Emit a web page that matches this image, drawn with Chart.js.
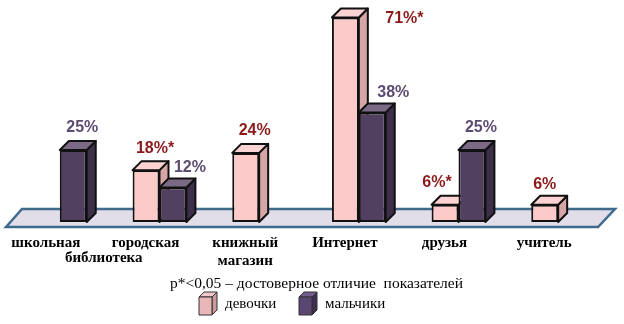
<!DOCTYPE html>
<html>
<head>
<meta charset="utf-8">
<script src="https://cdn.jsdelivr.net/npm/chart.js@4"></script>
<style>
  html, body { margin: 0; padding: 0; background: #fff; }
  #wrap { width: 624px; height: 324px; }
</style>
</head>
<body>
<div id="wrap"><canvas id="chart" width="624" height="324"></canvas></div>
<script>
const categories = ['школьная библиотека', 'городская библиотека', 'книжный магазин', 'Интернет', 'друзья', 'учитель'];
const girls = [null, 18, 24, 71, 6, 6];
const boys = [25, 12, null, 38, 25, null];
const girlsSignificant = [false, true, false, true, true, false];
const boysSignificant = [false, false, false, false, false, false];
const seriesNames = ['девочки', 'мальчики'];
const note = 'p*<0,05 – достоверное отличие  показателей';

const palette = [
  { front: '#fdcaca', side: '#d6a6a6', top: '#fbd3d3', text: '#8b1a1a', legFront: '#e9b7b7', legSide: '#c99b9b', legTop: '#f1c9c9' },
  { front: '#524060', side: '#3d2f49', top: '#7a6a86', text: '#5d4b72', legFront: '#5a4672', legSide: '#3e2f52', legTop: '#725e8a' }
];
const depth = 9;
// small nudges for labels that would collide in the original layout
const labelNudge = { '0-3': [50, 23], '1-1': [8, 2], '0-4': [-17, 0], '1-3': [12, 2], '0-5': [-9, 2] };

function face(ctx, pts, fill) {
  ctx.beginPath();
  ctx.moveTo(pts[0][0], pts[0][1]);
  for (let i = 1; i < pts.length; i++) ctx.lineTo(pts[i][0], pts[i][1]);
  ctx.closePath();
  ctx.fillStyle = fill;
  ctx.fill();
  ctx.stroke();
}

const bars3d = {
  id: 'bars3d',
  beforeDatasetsDraw(chart) {
    const ctx = chart.ctx;
    const x = chart.scales.x, y = chart.scales.y;
    const zero = y.getPixelForValue(0);
    ctx.save();
    // floor
    ctx.lineWidth = 2.5;
    ctx.strokeStyle = '#3f6a8c';
    face(ctx, [[x.left - 4, zero + 5], [x.left + 12, zero - 13], [x.right + 7, zero - 13], [x.right - 10, zero + 5]], '#e1dde9');
    // side and top faces, fronts are drawn by the chart afterwards
    ctx.lineWidth = 2;
    ctx.strokeStyle = '#111';
    ctx.lineJoin = 'round';
    for (let i = 0; i < categories.length; i++) {
      for (let d = 0; d < 2; d++) {
        const meta = chart.getDatasetMeta(d);
        const el = meta.data[i];
        if (!el || chart.data.datasets[d].data[i] == null) continue;
        const l = el.x - el.width / 2, r = el.x + el.width / 2, t = el.y, b = el.base;
        face(ctx, [[r, t], [r + depth, t - depth], [r + depth, b - depth], [r, b]], palette[d].side);
        face(ctx, [[l, t], [l + depth, t - depth], [r + depth, t - depth], [r, t]], palette[d].top);
      }
    }
    ctx.restore();
  },
  afterDatasetsDraw(chart) {
    const ctx = chart.ctx;
    ctx.save();
    ctx.font = 'bold 16px "Liberation Sans", Arial, sans-serif';
    ctx.textAlign = 'center';
    ctx.textBaseline = 'middle';
    const sig = [girlsSignificant, boysSignificant];
    for (let d = 0; d < 2; d++) {
      const meta = chart.getDatasetMeta(d);
      chart.data.datasets[d].data.forEach((v, i) => {
        if (v == null) return;
        const el = meta.data[i];
        const nudge = labelNudge[d + '-' + i] || [0, 0];
        ctx.fillStyle = palette[d].text;
        ctx.fillText(v + '%' + (sig[d][i] ? '*' : ''), el.x + 9 + nudge[0], el.y - 22 + nudge[1]);
      });
    }
    // shared second word under the two library labels
    const x = chart.scales.x;
    ctx.font = 'bold 15px "Liberation Serif", "Times New Roman", serif';
    ctx.fillStyle = '#000';
    ctx.fillText('библиотека', (x.getPixelForValue(0) + x.getPixelForValue(1)) / 2 - 6, chart.chartArea.bottom + 36);

    // note and legend
    ctx.font = '15.5px "Liberation Serif", "Times New Roman", serif';
    ctx.textAlign = 'left';
    ctx.fillText(note, 170, 284);
    const legX = [199, 299];
    ctx.lineWidth = 1;
    ctx.strokeStyle = '#333';
    ctx.font = '15px "Liberation Serif", "Times New Roman", serif';
    for (let d = 0; d < 2; d++) {
      const p = palette[d];
      const l = legX[d], r = l + 13, t = 297, b = 315, dp = 5;
      face(ctx, [[r, t], [r + dp, t - dp], [r + dp, b - dp], [r, b]], p.legSide);
      face(ctx, [[l, t], [l + dp, t - dp], [r + dp, t - dp], [r, t]], p.legTop);
      face(ctx, [[l, t], [r, t], [r, b], [l, b]], p.legFront);
      ctx.fillStyle = '#000';
      ctx.fillText(seriesNames[d], r + 13, 304);
    }
    ctx.restore();
  }
};

new Chart(document.getElementById('chart'), {
  type: 'bar',
  data: {
    labels: categories,
    datasets: [
      { label: seriesNames[0], data: girls, backgroundColor: palette[0].front, borderColor: '#111', borderWidth: 2, borderSkipped: false },
      { label: seriesNames[1], data: boys, backgroundColor: palette[1].front, borderColor: '#111', borderWidth: 2, borderSkipped: false }
    ]
  },
  options: {
    responsive: false,
    animation: false,
    layout: { padding: { left: 10, right: 16, top: 6, bottom: 42 } },
    datasets: { bar: { barPercentage: 1, categoryPercentage: 0.54 } },
    plugins: { legend: { display: false }, tooltip: { enabled: false } },
    scales: {
      x: {
        grid: { display: false, drawTicks: false },
        border: { display: false },
        ticks: {
          color: '#000',
          padding: 12,
          labelOffset: -14,
          maxRotation: 0,
          autoSkip: false,
          font: { family: '"Liberation Serif", "Times New Roman", serif', size: 15, weight: 'bold' },
          callback: (v, i) => i < 2 ? categories[i].split(' ')[0] : categories[i].split(' ')
        }
      },
      y: { display: false, min: 0, max: 75 }
    }
  },
  plugins: [bars3d]
});
</script>
</body>
</html>
